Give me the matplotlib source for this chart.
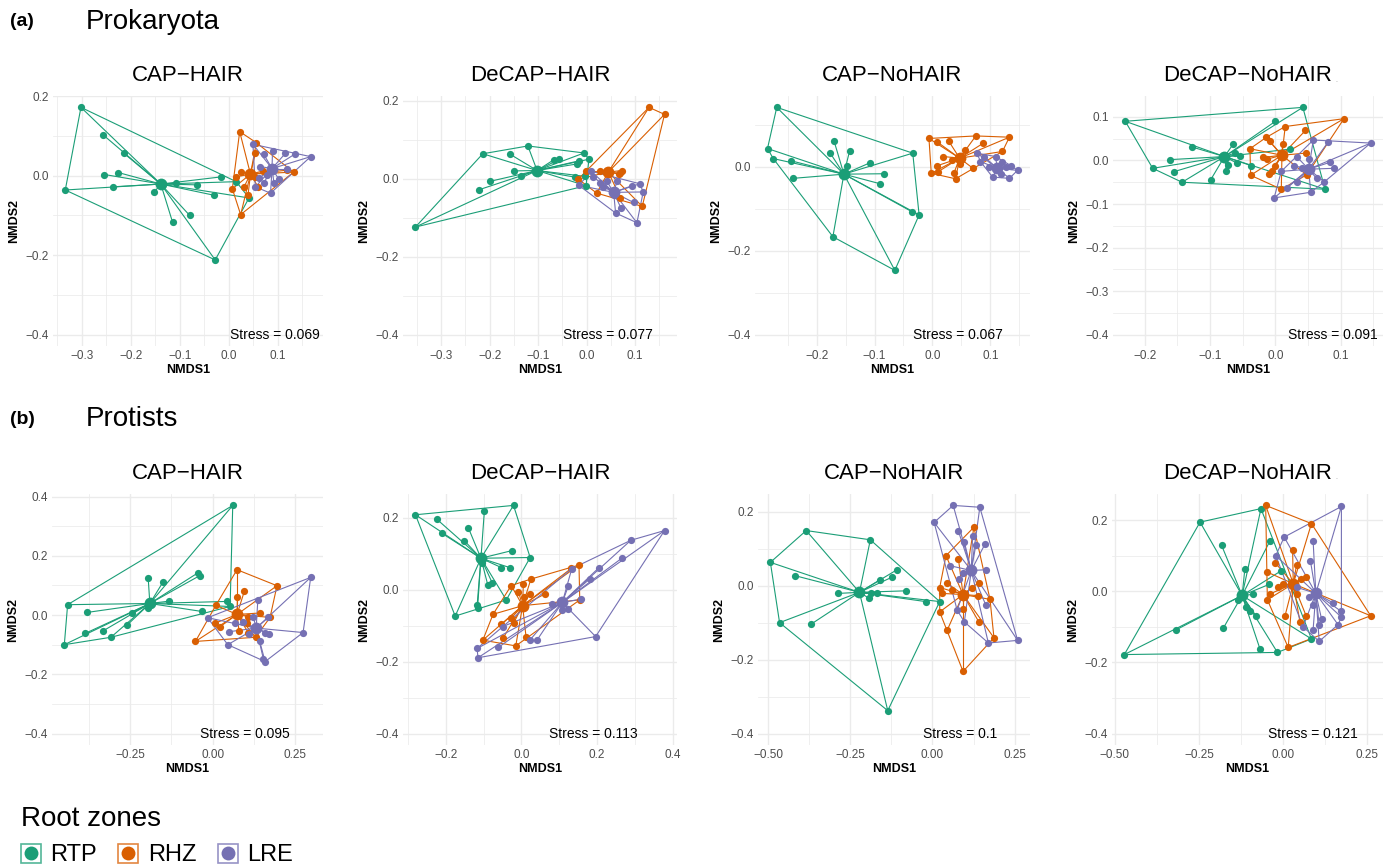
import numpy as np
import matplotlib
matplotlib.use('Agg')
import matplotlib.pyplot as plt
from matplotlib.patches import Rectangle, Polygon
from matplotlib.lines import Line2D
from matplotlib.legend_handler import HandlerTuple
from matplotlib.ticker import FuncFormatter

plt.rcParams['font.family'] = ['Liberation Sans', 'DejaVu Sans']

# ---------------- data ----------------
GROUPS = ['RTP', 'RHZ', 'LRE']
COLORS = ['#1B9E77', '#D95F02', '#7570B3']

PANEL_TITLES = ['CAP\u2212HAIR', 'DeCAP\u2212HAIR', 'CAP\u2212NoHAIR', 'DeCAP\u2212NoHAIR']
STRESS_PROK = ['0.069', '0.077', '0.067', '0.091']
STRESS_PROT = ['0.095', '0.113', '0.1', '0.121']

# Prokaryota, CAP-HAIR
A1_RTP = [(-0.302, 0.172), (-0.256, 0.102), (-0.214, 0.056), (-0.254, 0.003), (-0.226, 0.008),
          (-0.237, -0.028), (-0.334, -0.036), (-0.153, -0.042), (-0.107, -0.019), (-0.066, -0.023),
          (-0.031, -0.049), (-0.016, -0.003), (0.015, -0.015), (0.041, -0.056), (-0.080, -0.100),
          (-0.115, -0.117), (-0.028, -0.212)]
A1_RHZ = [(0.022, 0.111), (0.056, 0.083), (0.054, 0.056), (0.025, 0.010), (0.014, -0.003),
          (0.007, -0.033), (0.031, -0.028), (0.039, -0.049), (0.024, -0.098), (0.060, -0.029),
          (0.132, 0.009), (0.119, 0.014), (0.054, -0.004), (0.070, 0.012)]
A1_LRE = [(0.049, 0.079), (0.071, 0.054), (0.089, 0.063), (0.115, 0.056), (0.134, 0.054),
          (0.167, 0.048), (0.064, 0.023), (0.119, 0.018), (0.061, -0.007), (0.078, 0.002),
          (0.102, -0.009), (0.054, -0.028), (0.085, -0.044), (0.092, -0.019), (0.071, -0.019)]
A1_CENT = [(-0.139, -0.021), (0.044, 0.004), (0.088, 0.018)]

# Prokaryota, DeCAP-HAIR
A2_RTP = [(-0.353, -0.124), (-0.214, 0.064), (-0.158, 0.063), (-0.121, 0.084), (-0.200, -0.007),
          (-0.221, -0.028), (-0.150, 0.020), (-0.136, 0.008), (-0.067, 0.049), (-0.056, 0.050),
          (-0.005, 0.066), (0.005, 0.050), (-0.015, 0.046), (-0.019, 0.038), (-0.024, 0.004),
          (-0.001, -0.018), (-0.003, 0.006)]
A2_RHZ = [(0.129, 0.183), (0.161, 0.165), (-0.001, 0.019), (0.028, 0.019), (0.042, 0.020),
          (0.070, 0.014), (0.073, 0.021), (0.066, 0.012), (0.021, -0.037), (-0.017, -0.001),
          (0.115, -0.071), (0.070, -0.049), (0.047, 0.016)]
A2_LRE = [(0.010, 0.019), (0.014, 0.004), (-0.016, -0.017), (0.028, -0.011), (0.042, -0.007),
          (0.063, -0.007), (0.094, -0.018), (0.110, -0.013), (0.117, -0.034), (0.097, -0.061),
          (0.060, -0.088), (0.071, -0.075), (0.104, -0.113), (0.056, -0.043), (0.035, -0.021)]
A2_CENT = [(-0.102, 0.021), (0.045, 0.017), (0.056, -0.035)]

# Prokaryota, CAP-NoHAIR
A3_RTP = [(-0.269, 0.141), (-0.285, 0.043), (-0.275, 0.019), (-0.245, 0.014), (-0.241, -0.028),
          (-0.170, 0.061), (-0.177, 0.033), (-0.143, 0.038), (-0.148, 0.002), (-0.108, 0.009),
          (-0.083, -0.017), (-0.090, -0.041), (-0.034, 0.032), (-0.036, -0.107), (-0.023, -0.115),
          (-0.172, -0.167), (-0.065, -0.247)]
A3_RHZ = [(-0.006, 0.067), (0.008, 0.059), (0.028, 0.061), (0.075, 0.073), (0.087, 0.055),
          (0.133, 0.070), (0.121, 0.036), (0.057, 0.040), (0.019, 0.024), (0.008, 0.002),
          (-0.002, -0.016), (0.009, -0.013), (0.037, -0.016), (0.040, -0.029), (0.070, -0.004),
          (0.047, 0.006), (0.034, 0.016)]
A3_LRE = [(0.077, 0.032), (0.089, 0.024), (0.109, 0.024), (0.127, 0.000), (0.136, 0.002),
          (0.147, -0.009), (0.104, -0.025), (0.133, -0.028), (0.118, -0.017), (0.098, 0.000),
          (0.121, 0.012), (0.083, 0.012)]
A3_CENT = [(-0.153, -0.018), (0.047, 0.020), (0.112, -0.004)]

# Prokaryota, DeCAP-NoHAIR
A4_RTP = [(-0.230, 0.090), (0.042, 0.122), (0.000, 0.090), (-0.128, 0.031), (-0.161, 0.002),
          (-0.188, -0.018), (-0.156, -0.026), (-0.143, -0.050), (-0.099, -0.044), (-0.065, 0.037),
          (-0.062, 0.017), (-0.054, 0.011), (-0.072, -0.010), (-0.059, -0.006), (-0.075, -0.025),
          (-0.037, -0.012), (0.022, 0.026), (0.076, -0.066)]
A4_RHZ = [(0.105, 0.096), (0.015, 0.078), (0.046, 0.069), (-0.014, 0.053), (-0.009, 0.044),
          (0.011, 0.037), (-0.039, 0.027), (-0.019, 0.007), (-0.013, 0.003), (0.000, -0.012),
          (-0.010, -0.031), (-0.005, -0.025), (-0.038, -0.034), (0.009, -0.066), (0.047, 0.017),
          (0.048, -0.033)]
A4_LRE = [(0.146, 0.040), (0.081, 0.043), (0.058, 0.047), (0.033, 0.008), (0.052, 0.003),
          (0.028, -0.012), (0.084, -0.004), (0.089, -0.018), (0.009, -0.025), (0.033, -0.050),
          (0.063, -0.041), (0.075, -0.049), (0.018, -0.063), (0.054, -0.073), (-0.002, -0.086),
          (0.041, -0.018)]
A4_CENT = [(-0.078, 0.009), (0.010, 0.012), (0.051, -0.020)]

# Protists, CAP-HAIR
B1_RTP = [(0.061, 0.370), (-0.439, 0.035), (-0.449, -0.100), (-0.379, 0.009), (-0.386, -0.062),
          (-0.331, -0.053), (-0.308, -0.075), (-0.258, -0.033), (-0.245, 0.006), (-0.195, 0.124),
          (-0.151, 0.110), (-0.195, 0.023), (-0.131, 0.047), (-0.045, 0.142), (-0.039, 0.133),
          (-0.032, 0.012), (0.045, 0.046), (0.053, 0.029)]
B1_RHZ = [(0.074, 0.153), (0.096, 0.080), (0.075, 0.060), (0.195, 0.099), (0.010, 0.033),
          (0.006, -0.028), (0.023, -0.039), (-0.052, -0.089), (0.080, -0.054), (0.108, -0.059),
          (0.130, -0.075), (0.144, 0.007), (0.108, -0.005), (0.174, -0.008), (0.103, -0.027)]
B1_LRE = [(0.297, 0.127), (0.137, 0.052), (0.274, -0.059), (0.159, -0.157), (0.154, -0.149),
          (0.046, -0.100), (-0.015, -0.009), (0.051, -0.056), (0.068, -0.028), (0.111, -0.064),
          (0.144, -0.089), (0.159, -0.059), (0.172, -0.064), (0.169, -0.008), (0.123, -0.005),
          (0.093, -0.025)]
B1_CENT = [(-0.190, 0.039), (0.074, 0.002), (0.132, -0.044)]

# Protists, DeCAP-HAIR
B2_RTP = [(-0.280, 0.209), (-0.021, 0.235), (-0.098, 0.219), (-0.224, 0.197), (-0.211, 0.158),
          (-0.140, 0.172), (-0.151, 0.137), (-0.026, 0.109), (0.023, 0.090), (-0.053, 0.062),
          (-0.031, 0.062), (-0.089, 0.014), (-0.077, 0.019), (-0.040, -0.028), (-0.117, -0.042),
          (-0.116, -0.051), (-0.175, -0.073), (-0.104, 0.074)]
B2_RHZ = [(0.152, 0.069), (0.132, 0.060), (0.025, 0.030), (0.005, 0.017), (-0.027, 0.012),
          (-0.008, -0.005), (0.007, -0.019), (0.022, -0.011), (0.063, -0.011), (0.154, -0.028),
          (-0.075, -0.068), (-0.053, -0.096), (-0.027, -0.079), (-0.020, -0.091), (-0.102, -0.140),
          (-0.049, -0.135), (-0.015, -0.156), (0.012, -0.130)]
B2_LRE = [(0.378, 0.165), (0.289, 0.138), (0.265, 0.088), (0.205, 0.062), (0.180, 0.030),
          (0.133, 0.059), (0.124, 0.011), (0.081, -0.039), (0.156, -0.026), (0.123, -0.054),
          (0.108, -0.056), (0.196, -0.130), (0.022, -0.140), (0.041, -0.140), (-0.049, -0.102),
          (-0.061, -0.160), (-0.117, -0.163), (-0.115, -0.189)]
B2_CENT = [(-0.107, 0.088), (0.003, -0.044), (0.108, -0.035)]

# Protists, CAP-NoHAIR
B3_RTP = [(-0.493, 0.063), (-0.384, 0.149), (-0.189, 0.124), (-0.465, -0.100), (-0.369, -0.104),
          (-0.136, -0.338), (-0.418, 0.027), (-0.288, -0.021), (-0.193, -0.034), (-0.186, -0.021),
          (-0.168, -0.021), (-0.161, 0.015), (-0.123, 0.023), (-0.108, 0.043), (-0.081, -0.014),
          (-0.021, -0.043), (0.022, -0.043)]
B3_RHZ = [(0.126, 0.158), (0.079, 0.072), (0.041, 0.081), (0.045, 0.006), (0.022, -0.005),
          (0.030, -0.021), (0.058, -0.012), (0.022, -0.071), (0.045, -0.120), (0.093, -0.064),
          (0.119, -0.007), (0.140, 0.008), (0.139, -0.027), (0.175, -0.037), (0.187, -0.141),
          (0.141, -0.098), (0.093, -0.232)]
B3_LRE = [(0.005, 0.171), (0.063, 0.217), (0.144, 0.212), (0.079, 0.147), (0.097, 0.118),
          (0.122, 0.133), (0.132, 0.110), (0.160, 0.113), (0.053, 0.054), (0.093, 0.033),
          (0.162, 0.043), (0.081, 0.018), (0.075, -0.066), (0.097, -0.098), (0.162, -0.052),
          (0.170, -0.155), (0.259, -0.148)]
B3_CENT = [(-0.222, -0.018), (0.093, -0.024), (0.118, 0.041)]

# Protists, DeCAP-NoHAIR
B4_RTP = [(-0.472, -0.178), (-0.317, -0.108), (-0.247, 0.194), (-0.066, 0.232), (-0.183, 0.129),
          (-0.178, -0.104), (-0.114, 0.061), (-0.040, 0.140), (-0.005, 0.058), (-0.042, 0.019),
          (-0.089, -0.009), (-0.134, -0.026), (-0.109, -0.045), (-0.099, -0.056), (-0.081, -0.069),
          (-0.069, -0.162), (-0.017, -0.172), (0.084, -0.134)]
B4_RHZ = [(-0.052, 0.241), (0.084, 0.190), (0.260, -0.069), (-0.048, 0.054), (-0.023, 0.079),
          (0.028, 0.115), (0.040, 0.075), (-0.014, 0.013), (-0.040, -0.008), (-0.047, -0.024),
          (0.069, 0.039), (0.054, 0.035), (0.005, -0.071), (0.050, -0.087), (0.069, -0.071),
          (0.015, -0.158), (0.040, -0.008), (0.000, 0.021)]
B4_LRE = [(0.173, 0.238), (0.003, 0.152), (0.089, 0.141), (-0.022, 0.100), (0.081, 0.085),
          (0.077, -0.015), (0.149, -0.033), (0.173, -0.057), (0.173, -0.073), (0.163, -0.094),
          (0.114, -0.078), (0.107, -0.095), (0.107, -0.141), (0.089, -0.108), (0.059, -0.100),
          (0.089, -0.040), (0.040, 0.011)]
B4_CENT = [(-0.122, -0.012), (0.030, 0.021), (0.097, -0.006)]

# axis breaks
A_XT = [[-0.3, -0.2, -0.1, 0.0, 0.1], [-0.3, -0.2, -0.1, 0.0, 0.1], [-0.2, -0.1, 0.0, 0.1], [-0.2, -0.1, 0.0, 0.1]]
A_YT = [[-0.4, -0.2, 0.0, 0.2], [-0.4, -0.2, 0.0, 0.2], [-0.4, -0.2, 0.0], [-0.4, -0.3, -0.2, -0.1, 0.0, 0.1]]
B_XT = [[-0.25, 0.0, 0.25], [-0.2, 0.0, 0.2, 0.4], [-0.5, -0.25, 0.0, 0.25], [-0.5, -0.25, 0.0, 0.25]]
B_YT = [[-0.4, -0.2, 0.0, 0.2, 0.4], [-0.4, -0.2, 0.0, 0.2], [-0.4, -0.2, 0.0, 0.2], [-0.4, -0.2, 0.0, 0.2]]
A_XDEC = [1, 1, 1, 1]
B_XDEC = [2, 1, 2, 2]

# ---------------- layout ----------------
W, H = 1392, 866
fig = plt.figure(figsize=(W / 100, H / 100), dpi=100)

TOP_BOX = [(53, 323), (403, 677), (755, 1030), (1113, 1383)]
BOT_BOX = [(52, 323), (403, 677), (758, 1030), (1112, 1383)]
TOP_Y = (96, 346)
BOT_Y = (494, 745)
STRESS_FRAC_TOP = [0.989, 0.912, 0.90, 0.981]
STRESS_FRAC_BOT = [0.877, 0.857, 0.88, 0.907]

GRID = '#EBEBEB'
TICKC = '#4D4D4D'


def hull(pts):
    p = sorted(set(pts))
    if len(p) < 3:
        return p
    def cross(o, a, b):
        return (a[0] - o[0]) * (b[1] - o[1]) - (a[1] - o[1]) * (b[0] - o[0])
    lower, upper = [], []
    for q in p:
        while len(lower) >= 2 and cross(lower[-2], lower[-1], q) <= 0:
            lower.pop()
        lower.append(q)
    for q in reversed(p):
        while len(upper) >= 2 and cross(upper[-2], upper[-1], q) <= 0:
            upper.pop()
        upper.append(q)
    return lower[:-1] + upper[:-1]


def minor_breaks(major, lo, hi):
    d = major[1] - major[0]
    ext = [major[0] - d] + list(major) + [major[-1] + d]
    mids = [(ext[i] + ext[i + 1]) / 2 for i in range(len(ext) - 1)]
    return [m for m in mids if lo <= m <= hi]


def make_panel(box, ybox, groups, cents, title, stress, sfrac, xt, yt, xdec, ydec):
    x0, x1 = box
    y0, y1 = ybox
    ax = fig.add_axes([x0 / W, 1 - y1 / H, (x1 - x0) / W, (y1 - y0) / H])
    allx = [p[0] for g in groups for p in g] + [c[0] for c in cents]
    ally = [p[1] for g in groups for p in g] + [c[1] for c in cents] + [-0.4]
    xr = max(allx) - min(allx)
    yr = max(ally) - min(ally)
    xlim = (min(allx) - 0.05 * xr, max(allx) + 0.05 * xr)
    ylim = (min(ally) - 0.05 * yr, max(ally) + 0.05 * yr)
    ax.set_xlim(*xlim)
    ax.set_ylim(*ylim)
    for s in ax.spines.values():
        s.set_visible(False)
    ax.set_xticks(xt)
    ax.set_yticks(yt)
    ax.set_xticks(minor_breaks(xt, *xlim), minor=True)
    ax.set_yticks(minor_breaks(yt, *ylim), minor=True)
    ax.xaxis.set_major_formatter(FuncFormatter(lambda v, p, d=xdec: f"{v:.{d}f}".replace('-', '\u2212')))
    ax.yaxis.set_major_formatter(FuncFormatter(lambda v, p, d=ydec: f"{v:.{d}f}".replace('-', '\u2212')))
    ax.tick_params(which='both', length=0, labelsize=8.5, labelcolor=TICKC, pad=3)
    ax.grid(which='major', color=GRID, lw=1.0)
    ax.grid(which='minor', color=GRID, lw=0.55)
    ax.set_axisbelow(True)
    for g, c, col in zip(groups, cents, COLORS):
        h = hull(g)
        ax.add_patch(Polygon(h, closed=True, fill=False, edgecolor=col, lw=0.8, zorder=2))
        for p in g:
            ax.plot([c[0], p[0]], [c[1], p[1]], color=col, lw=0.8, zorder=2)
        ax.plot([p[0] for p in g], [p[1] for p in g], 'o', color=col, ms=5.2, mew=0, zorder=3)
        ax.plot([c[0]], [c[1]], 'o', color=col, ms=8.5, mew=0, zorder=3)
    ax.text(sfrac, -0.4, 'Stress = ' + stress, transform=ax.get_yaxis_transform(),
            ha='right', va='center', fontsize=10)
    ax.set_xlabel('NMDS1', fontsize=9, fontweight='bold', labelpad=1)
    ax.set_ylabel('NMDS2', fontsize=9, fontweight='bold', labelpad=4)
    ax.set_title(title, fontsize=16, pad=10.5)
    return ax


A_PANELS = [(A1_RTP, A1_RHZ, A1_LRE, A1_CENT), (A2_RTP, A2_RHZ, A2_LRE, A2_CENT),
            (A3_RTP, A3_RHZ, A3_LRE, A3_CENT), (A4_RTP, A4_RHZ, A4_LRE, A4_CENT)]
B_PANELS = [(B1_RTP, B1_RHZ, B1_LRE, B1_CENT), (B2_RTP, B2_RHZ, B2_LRE, B2_CENT),
            (B3_RTP, B3_RHZ, B3_LRE, B3_CENT), (B4_RTP, B4_RHZ, B4_LRE, B4_CENT)]

for i in range(4):
    r, z, l, c = A_PANELS[i]
    make_panel(TOP_BOX[i], TOP_Y, [r, z, l], c, PANEL_TITLES[i], STRESS_PROK[i], STRESS_FRAC_TOP[i],
               A_XT[i], A_YT[i], A_XDEC[i], 1)
    r, z, l, c = B_PANELS[i]
    make_panel(BOT_BOX[i], BOT_Y, [r, z, l], c, PANEL_TITLES[i], STRESS_PROT[i], STRESS_FRAC_BOT[i],
               B_XT[i], B_YT[i], B_XDEC[i], 1)

# tiny stray dot after the DeCAP-NoHAIR titles
for ypix in (82, 479):
    fig.text(1335 / W, 1 - ypix / H, '.', fontsize=5, color='#999999', ha='left', va='baseline')

# section headers
fig.text(10 / W, 1 - 22 / H, '(a)', fontsize=14, fontweight='bold', va='center', ha='left')
fig.text(86 / W, 1 - 22 / H, 'Prokaryota', fontsize=20, va='center', ha='left')
fig.text(10 / W, 1 - 419 / H, '(b)', fontsize=14, fontweight='bold', va='center', ha='left')
fig.text(86 / W, 1 - 419 / H, 'Protists', fontsize=20, va='center', ha='left')

# legend
handles = []
for col in COLORS:
    rect = Rectangle((0, 0), 1, 1, fill=False, edgecolor=col, lw=1.2, alpha=0.75)
    dot = Line2D([], [], marker='o', color=col, ls='none', ms=10, mew=0)
    handles.append((rect, dot))
leg = fig.legend(handles, GROUPS, handler_map={tuple: HandlerTuple(ndivide=1)},
                 title='Root zones', loc='upper left', bbox_to_anchor=(21 / W, 1 - 806 / H),
                 ncol=3, frameon=False, fontsize=17, title_fontsize=20, alignment='left',
                 handlelength=0.85, handleheight=0.85, handletextpad=0.4, columnspacing=0.9,
                 borderpad=0, borderaxespad=0)

fig.savefig('out.png', dpi=100, facecolor='white')
